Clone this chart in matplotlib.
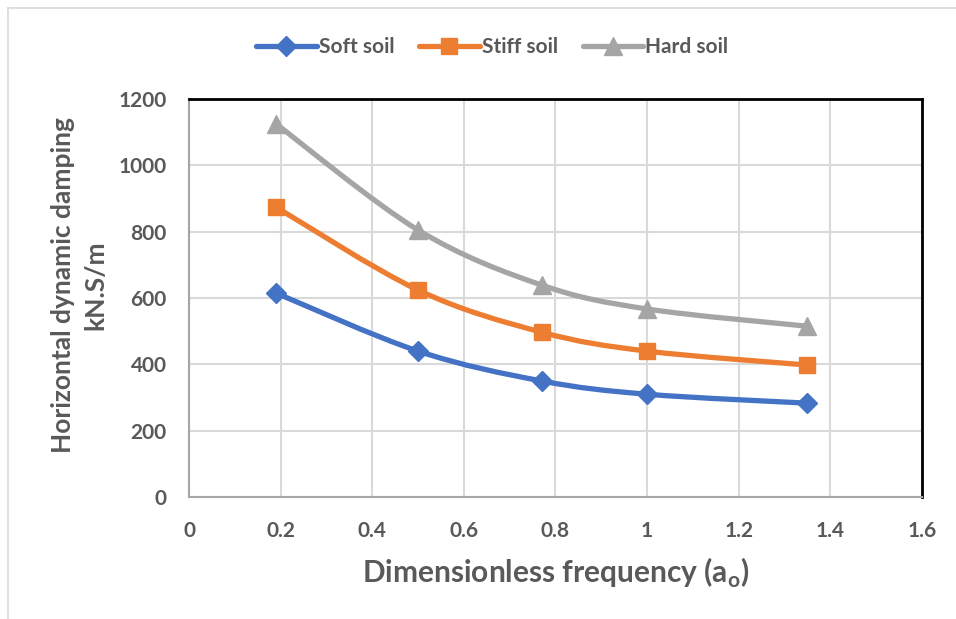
import numpy as np
import matplotlib
matplotlib.use("Agg")
import matplotlib.pyplot as plt
from matplotlib.path import Path
from matplotlib.patches import PathPatch
from matplotlib.lines import Line2D

plt.rcParams["font.family"] = ["Lato", "DejaVu Sans"]
plt.rcParams["font.weight"] = "bold"
plt.rcParams["axes.labelweight"] = "bold"

# Dimensionless frequency a_o and horizontal damping (kN.s/m)
freq = [0.19, 0.50, 0.77, 1.00, 1.35]
soft_soil = [615, 440, 350, 310, 283]
stiff_soil = [874, 624, 497, 440, 398]
hard_soil = [1125, 805, 639, 567, 515]

series = [
    ("Soft soil", soft_soil, "#4472C4", "D", 10),
    ("Stiff soil", stiff_soil, "#ED7D31", "s", 12),
    ("Hard soil", hard_soil, "#A5A5A5", "^", 13),
]

TEXT = "#595959"


def smooth_path(x, y, tension=1 / 6):
    """Bezier path through the points, like a spreadsheet 'smoothed line'."""
    x = np.asarray(x, float)
    y = np.asarray(y, float)
    verts = [(x[0], y[0])]
    codes = [Path.MOVETO]
    n = len(x)
    for i in range(n - 1):
        p0 = (x[max(i - 1, 0)], y[max(i - 1, 0)])
        p1 = (x[i], y[i])
        p2 = (x[i + 1], y[i + 1])
        p3 = (x[min(i + 2, n - 1)], y[min(i + 2, n - 1)])
        c1 = (p1[0] + (p2[0] - p0[0]) * tension, p1[1] + (p2[1] - p0[1]) * tension)
        c2 = (p2[0] - (p3[0] - p1[0]) * tension, p2[1] - (p3[1] - p1[1]) * tension)
        verts += [c1, c2, p2]
        codes += [Path.CURVE4] * 3
    return Path(verts, codes)


fig = plt.figure(figsize=(9.56, 6.19), dpi=100)
ax = fig.add_axes([0.1977, 0.197, 0.7667, 0.643])

handles = []
for name, vals, color, marker, ms in series:
    patch = PathPatch(smooth_path(freq, vals), facecolor="none", edgecolor=color,
                      lw=3.8, capstyle="round", joinstyle="round", zorder=3)
    ax.add_patch(patch)
    ax.plot(freq, vals, linestyle="none", marker=marker, ms=ms, color=color, zorder=4)
    handles.append(Line2D([], [], color=color, lw=3.8, marker=marker, ms=ms,
                          solid_capstyle="round"))

ax.set_xlim(0, 1.6)
ax.set_ylim(0, 1200)
ax.set_xticks(np.arange(0, 1.61, 0.2))
ax.set_xticklabels(["0", "0.2", "0.4", "0.6", "0.8", "1", "1.2", "1.4", "1.6"],
                   fontweight="bold")
ax.set_yticks(range(0, 1201, 200))
ax.set_yticklabels([str(v) for v in range(0, 1201, 200)], fontweight="bold")
ax.grid(True, color="#D9D9D9", lw=1.5)
ax.set_axisbelow(True)
ax.tick_params(length=0, labelsize=15, colors=TEXT)
ax.tick_params(axis="y", pad=16)
ax.tick_params(axis="x", pad=17)

for side in ("top", "right"):
    ax.spines[side].set_color("black")
    ax.spines[side].set_linewidth(2)
for side in ("left", "bottom"):
    ax.spines[side].set_color("#A6A6A6")
    ax.spines[side].set_linewidth(1.5)

ax.set_xlabel("Dimensionless frequency (a$_\\mathregular{o}$)", fontsize=21.5,
              color=TEXT, labelpad=11, fontweight="bold")
ax.set_ylabel("Horizontal dynamic damping\nkN.S/m", fontsize=19, color=TEXT,
              linespacing=1.45, fontweight="bold")
ax.yaxis.set_label_coords(-0.111, 0.533)

fig.legend(handles, [s[0] for s in series], loc="center", bbox_to_anchor=(0.515, 0.924),
           ncol=3, frameon=False, fontsize=15, handlelength=2.9, handletextpad=0.1,
           columnspacing=1.2, labelcolor=TEXT)

# outer chart frame, partly cropped
fig.add_artist(Line2D([7.5 / 956, 7.5 / 956], [0, 1 - 8 / 619], transform=fig.transFigure,
                      color="#D9D9D9", lw=1.2))
fig.add_artist(Line2D([7.5 / 956, 1], [1 - 8 / 619, 1 - 8 / 619], transform=fig.transFigure,
                      color="#D9D9D9", lw=1.2))

fig.savefig("out.png", dpi=100)
